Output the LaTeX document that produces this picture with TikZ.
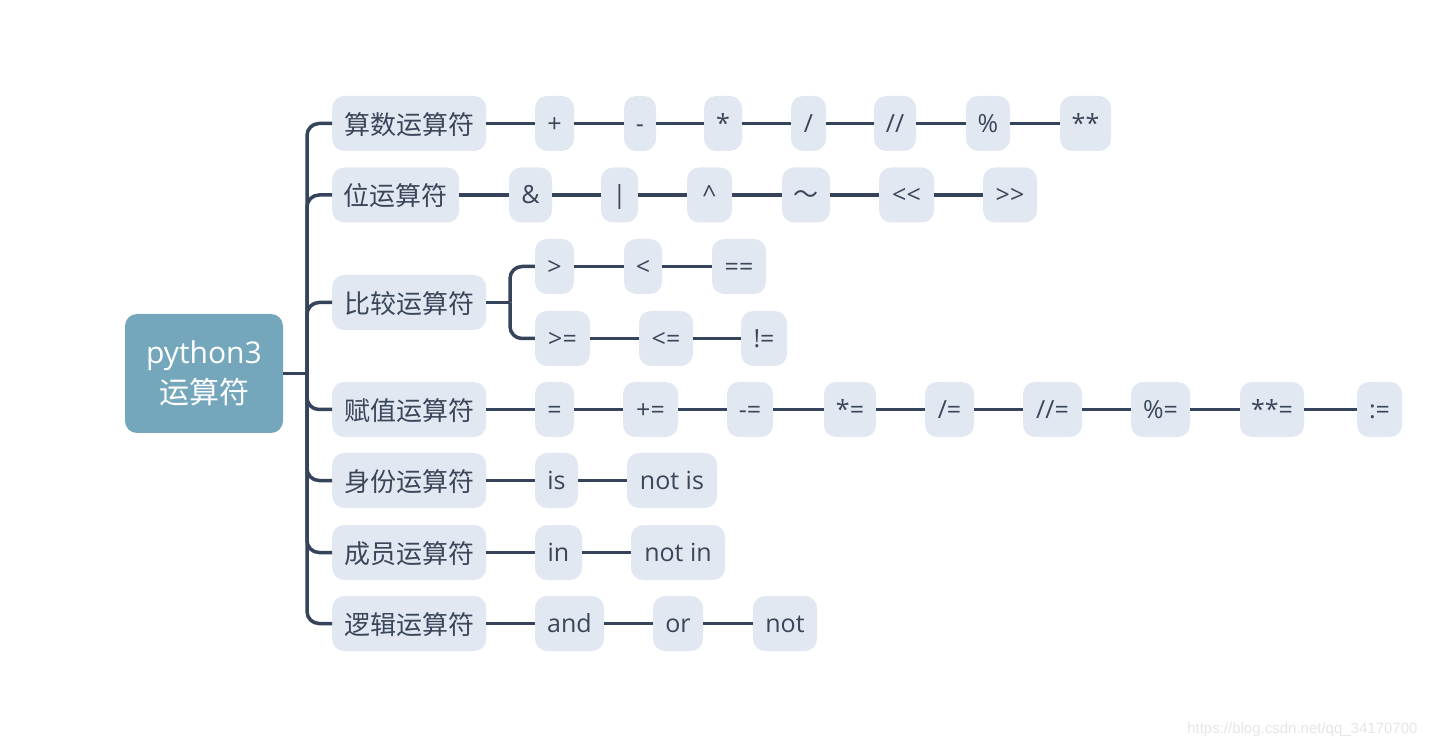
\documentclass[tikz,border=0pt]{standalone}
\usepackage{fontspec}
\setmainfont{Open Sans}
\newfontfamily\cjk{Noto Sans CJK SC}
\newfontfamily\wmfont{Liberation Sans}
\definecolor{linec}{HTML}{36445B}
\definecolor{boxc}{HTML}{E1E8F1}
\definecolor{rootc}{HTML}{74A7BC}
\definecolor{textc}{HTML}{3A4659}
\tikzset{
  leaf/.style={fill=boxc, rounded corners=12pt, minimum height=55pt, inner xsep=2pt, inner ysep=0pt,
    text height=21pt, text depth=3pt,
    text=textc, font=\fontsize{25}{29}\selectfont, anchor=center},
  catbox/.style={leaf, anchor=west, text height=23pt, text depth=1pt, font=\fontsize{26}{30}\selectfont\cjk},
  conn/.style={draw=linec, line width=3.5pt},
  branch/.style={conn, rounded corners=12pt},
}
\newcommand\opnode[5]{\node[leaf, minimum width={#3-#2}] (#1) at ({(#2+#3)/2},{748-#4}) {#5};}
\newcommand\catnode[4]{\node[catbox, minimum width={#2}] (#1) at (332,{748-#3}) {#4};}
\begin{document}
\begin{tikzpicture}[x=1pt,y=1pt]
\useasboundingbox (0,0) rectangle (1430,748);
% root
\node[fill=rootc, rounded corners=12pt, minimum width=158pt, minimum height=119pt, inner sep=0pt,
  text=white, align=center, font=\fontsize{30}{40}\selectfont] (root) at (204,{748-373.5}) {python3\\{\cjk 运算符}};
\coordinate (trunk) at (307,{748-373.5});
% categories
\catnode{arith}{154}{123.5}{算数运算符}
\catnode{bit}{127}{195}{位运算符}
\catnode{cmp}{154}{302.5}{比较运算符}
\catnode{asg}{154}{409.5}{赋值运算符}
\catnode{ident}{154}{480.5}{身份运算符}
\catnode{memb}{154}{552.5}{成员运算符}
\catnode{logic}{154}{623.5}{逻辑运算符}
% row 1
\opnode{a1}{535}{574}{123.5}{+}
\opnode{a2}{624}{656}{123.5}{-}
\opnode{a3}{704}{742}{123.5}{*}
\opnode{a4}{791}{826}{123.5}{/}
\opnode{a5}{874}{916}{123.5}{//}
\opnode{a6}{966}{1010}{123.5}{\%}
\opnode{a7}{1060}{1111}{123.5}{**}
% row 2
\opnode{b1}{509}{552}{195}{\&}
\opnode{b2}{601}{638}{195}{|}
\opnode{b3}{687}{732}{195}{\textasciicircum}
\opnode{b4}{782}{830}{195}{{\cjk ～}}
\opnode{b5}{879}{934}{195}{<\kern0pt<}
\opnode{b6}{983}{1037}{195}{>\kern0pt>}
% row 3
\opnode{c1}{535}{574}{266.5}{>}
\opnode{c2}{624}{662}{266.5}{<}
\opnode{c3}{712}{766}{266.5}{==}
\opnode{c4}{535}{590}{338.5}{>=}
\opnode{c5}{639}{693}{338.5}{<=}
\opnode{c6}{741}{787}{338.5}{!=}
% row 4
\opnode{d1}{535}{574}{409.5}{=}
\opnode{d2}{623}{678}{409.5}{+=}
\opnode{d3}{727}{773}{409.5}{-=}
\opnode{d4}{824}{876}{409.5}{*=}
\opnode{d5}{925}{974}{409.5}{/=}
\opnode{d6}{1023}{1082}{409.5}{//=}
\opnode{d7}{1131}{1190}{409.5}{\%=}
\opnode{d8}{1240}{1304}{409.5}{**=}
\opnode{d9}{1357}{1402}{409.5}{:=}
% row 5
\opnode{e1}{535}{578}{480.5}{is}
\opnode{e2}{627}{717}{480.5}{not is}
% row 6
\opnode{f1}{535}{582}{552.5}{in}
\opnode{f2}{631}{725}{552.5}{not in}
% row 7
\opnode{g1}{535}{604}{623.5}{and}
\opnode{g2}{653}{703}{623.5}{or}
\opnode{g3}{753}{817}{623.5}{not}
% connectors from root
\draw[conn] (root.east) -- (trunk);
\foreach \n in {arith,bit,cmp,asg,ident,memb,logic}
  \draw[branch] (trunk) |- (\n.west);
% comparison split
\coordinate (cmpj) at (510,{748-302.5});
\draw[conn] (cmp.east) -- (cmpj);
\draw[branch] (cmpj) |- (c1.west);
\draw[branch] (cmpj) |- (c4.west);
% chains
\draw[conn] (arith.east) -- (a1.west) (a1.east) -- (a2.west) (a2.east) -- (a3.west) (a3.east) -- (a4.west)
  (a4.east) -- (a5.west) (a5.east) -- (a6.west) (a6.east) -- (a7.west);
\draw[conn] (bit.east) -- (b1.west) (b1.east) -- (b2.west) (b2.east) -- (b3.west) (b3.east) -- (b4.west)
  (b4.east) -- (b5.west) (b5.east) -- (b6.west);
\draw[conn] (c1.east) -- (c2.west) (c2.east) -- (c3.west) (c4.east) -- (c5.west) (c5.east) -- (c6.west);
\draw[conn] (asg.east) -- (d1.west) (d1.east) -- (d2.west) (d2.east) -- (d3.west) (d3.east) -- (d4.west)
  (d4.east) -- (d5.west) (d5.east) -- (d6.west) (d6.east) -- (d7.west) (d7.east) -- (d8.west) (d8.east) -- (d9.west);
\draw[conn] (ident.east) -- (e1.west) (e1.east) -- (e2.west);
\draw[conn] (memb.east) -- (f1.west) (f1.east) -- (f2.west);
\draw[conn] (logic.east) -- (g1.west) (g1.east) -- (g2.west) (g2.east) -- (g3.west);
% watermark
\node[text=black!10, font=\wmfont\fontsize{15}{18}\selectfont, anchor=east] (wm) at (1421,{748-730}) {https://blog.csdn.net/qq\_34170700};
\end{tikzpicture}
\end{document}
